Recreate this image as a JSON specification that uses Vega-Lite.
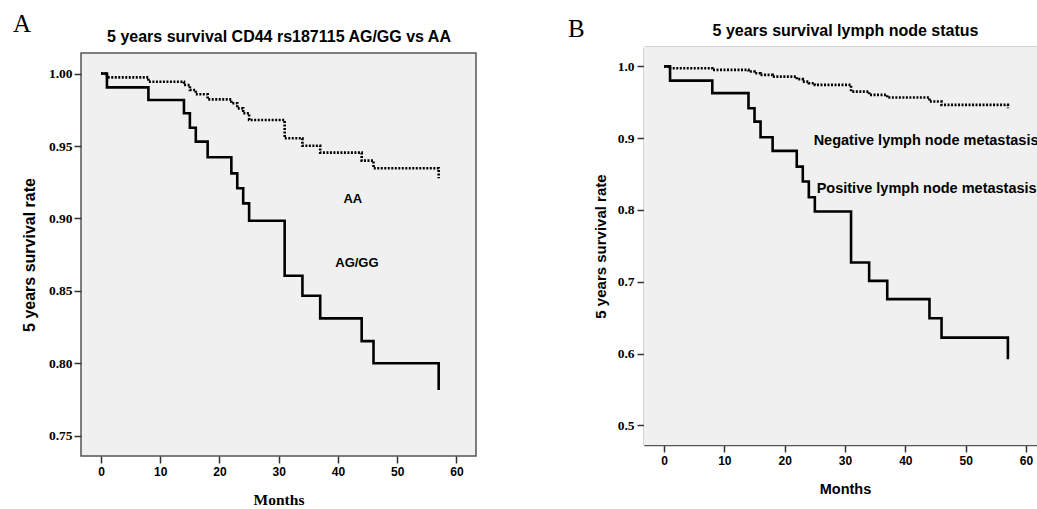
{
  "$schema": "https://vega.github.io/schema/vega-lite/v6.json",
  "background": "white",
  "padding": {"left": 12, "top": 11, "right": 0, "bottom": 0},
  "spacing": 91,
  "config": {"view": {"stroke": null}},
  "datasets": {
    "a_curves": [
      {"group": "AG/GG", "time": 0, "surv": 1.0},
      {"group": "AG/GG", "time": 1, "surv": 0.9905},
      {"group": "AG/GG", "time": 8, "surv": 0.9818},
      {"group": "AG/GG", "time": 14, "surv": 0.9726},
      {"group": "AG/GG", "time": 15, "surv": 0.9626},
      {"group": "AG/GG", "time": 16, "surv": 0.953},
      {"group": "AG/GG", "time": 18, "surv": 0.9422},
      {"group": "AG/GG", "time": 22, "surv": 0.9311},
      {"group": "AG/GG", "time": 23, "surv": 0.9208},
      {"group": "AG/GG", "time": 24, "surv": 0.9104},
      {"group": "AG/GG", "time": 25, "surv": 0.8984},
      {"group": "AG/GG", "time": 31, "surv": 0.8604},
      {"group": "AG/GG", "time": 34, "surv": 0.8466},
      {"group": "AG/GG", "time": 37, "surv": 0.831},
      {"group": "AG/GG", "time": 44, "surv": 0.8153},
      {"group": "AG/GG", "time": 46, "surv": 0.8},
      {"group": "AG/GG", "time": 57, "surv": 0.8},
      {"group": "AG/GG", "time": 57, "surv": 0.7815},
      {"group": "AA", "time": 0, "surv": 1.0},
      {"group": "AA", "time": 1, "surv": 0.9974},
      {"group": "AA", "time": 8, "surv": 0.9944},
      {"group": "AA", "time": 14, "surv": 0.9921},
      {"group": "AA", "time": 15, "surv": 0.9887},
      {"group": "AA", "time": 16, "surv": 0.9857},
      {"group": "AA", "time": 18, "surv": 0.9822},
      {"group": "AA", "time": 22, "surv": 0.9795},
      {"group": "AA", "time": 23, "surv": 0.976},
      {"group": "AA", "time": 24, "surv": 0.9726},
      {"group": "AA", "time": 25, "surv": 0.968},
      {"group": "AA", "time": 31, "surv": 0.9553},
      {"group": "AA", "time": 34, "surv": 0.9502},
      {"group": "AA", "time": 37, "surv": 0.9454},
      {"group": "AA", "time": 44, "surv": 0.9399},
      {"group": "AA", "time": 46, "surv": 0.9346},
      {"group": "AA", "time": 57, "surv": 0.9346},
      {"group": "AA", "time": 57, "surv": 0.9277}
    ],
    "a_labels": [
      {"label": "AA", "time": 42.5, "surv": 0.9134},
      {"label": "AG/GG", "time": 43.2, "surv": 0.869}
    ],
    "b_curves": [
      {"group": "Positive", "time": 0, "surv": 1.0},
      {"group": "Positive", "time": 1, "surv": 0.9802},
      {"group": "Positive", "time": 8, "surv": 0.9627},
      {"group": "Positive", "time": 14, "surv": 0.9418},
      {"group": "Positive", "time": 15, "surv": 0.9231},
      {"group": "Positive", "time": 16, "surv": 0.9014},
      {"group": "Positive", "time": 18, "surv": 0.8823},
      {"group": "Positive", "time": 22, "surv": 0.8604},
      {"group": "Positive", "time": 23, "surv": 0.8396},
      {"group": "Positive", "time": 24, "surv": 0.8178},
      {"group": "Positive", "time": 25, "surv": 0.7978},
      {"group": "Positive", "time": 31, "surv": 0.7268},
      {"group": "Positive", "time": 34, "surv": 0.7013},
      {"group": "Positive", "time": 37, "surv": 0.6758},
      {"group": "Positive", "time": 44, "surv": 0.6493},
      {"group": "Positive", "time": 46, "surv": 0.6223},
      {"group": "Positive", "time": 57, "surv": 0.6223},
      {"group": "Positive", "time": 57, "surv": 0.5922},
      {"group": "Negative", "time": 0, "surv": 1.0},
      {"group": "Negative", "time": 1, "surv": 0.9975},
      {"group": "Negative", "time": 8, "surv": 0.9951},
      {"group": "Negative", "time": 14, "surv": 0.9928},
      {"group": "Negative", "time": 15, "surv": 0.9905},
      {"group": "Negative", "time": 16, "surv": 0.9882},
      {"group": "Negative", "time": 18, "surv": 0.9858},
      {"group": "Negative", "time": 22, "surv": 0.9822},
      {"group": "Negative", "time": 23, "surv": 0.9788},
      {"group": "Negative", "time": 24, "surv": 0.9766},
      {"group": "Negative", "time": 25, "surv": 0.9742},
      {"group": "Negative", "time": 31, "surv": 0.9649},
      {"group": "Negative", "time": 34, "surv": 0.9603},
      {"group": "Negative", "time": 37, "surv": 0.9566},
      {"group": "Negative", "time": 44, "surv": 0.951},
      {"group": "Negative", "time": 46, "surv": 0.9464},
      {"group": "Negative", "time": 57, "surv": 0.9464},
      {"group": "Negative", "time": 57, "surv": 0.9418}
    ],
    "b_labels": [
      {"label": "Negative lymph node metastasis", "time": 24.8, "surv": 0.8962},
      {"label": "Positive lymph node metastasis", "time": 25.3, "surv": 0.8294}
    ]
  },
  "hconcat": [
    {
      "width": 395,
      "height": 403,
      "view": {"fill": "#f0f0f0", "stroke": "#555555", "strokeWidth": 1.5},
      "title": {"text": "A", "anchor": "start", "frame": "bounds", "font": "Liberation Serif", "fontSize": 25, "fontWeight": "normal", "color": "#000000", "offset": -9, "dx": -8},
      "layer": [
        {
          "data": {"name": "a_curves"},
          "mark": {"type": "line", "interpolate": "step-after", "strokeWidth": 2.6, "color": "#000000"},
          "encoding": {
            "x": {"field": "time", "type": "quantitative",
              "scale": {"domain": [-3.38, 63.3], "nice": false, "zero": false},
              "axis": {"orient": "bottom", "values": [0, 10, 20, 30, 40, 50, 60], "grid": false, "domain": false,
                "tickSize": 7, "tickWidth": 1.5, "tickColor": "#333333",
                "labelFont": "Liberation Sans", "labelFontSize": 12, "labelFontWeight": "bold", "labelColor": "#000000", "labelPadding": 3,
                "title": "Months", "titleFont": "Liberation Serif", "titleFontSize": 15.5, "titleFontWeight": "bold", "titleColor": "#000000",
                "titleX": 197.5, "titleY": 43, "titleBaseline": "middle", "titleAlign": "center"}},
            "y": {"field": "surv", "type": "quantitative",
              "scale": {"domain": [0.736, 1.0142], "nice": false, "zero": false},
              "axis": {"orient": "left", "values": [0.75, 0.8, 0.85, 0.9, 0.95, 1.0], "format": ".2f", "grid": false, "domain": false,
                "tickSize": 7, "tickWidth": 1.5, "tickColor": "#333333",
                "labelFont": "Liberation Serif", "labelFontSize": 13.5, "labelFontWeight": "bold", "labelColor": "#000000", "labelPadding": 2,
                "title": "5 years survival rate", "titleFont": "Liberation Sans", "titleFontSize": 16, "titleFontWeight": "bold", "titleColor": "#000000",
                "titleX": -52, "titleY": 201.5, "titleAngle": -90, "titleBaseline": "middle", "titleAlign": "center"}},
            "strokeDash": {"field": "group", "type": "nominal",
              "scale": {"domain": ["AG/GG", "AA"], "range": [[1, 0], [2, 1.5]]}, "legend": null}
          }
        },
        {
          "data": {"name": "a_labels"},
          "mark": {"type": "text", "font": "Liberation Sans", "fontSize": 13, "fontWeight": "bold", "align": "center", "baseline": "middle", "color": "#000000"},
          "encoding": {
            "x": {"field": "time", "type": "quantitative",
              "scale": {"domain": [-3.38, 63.3], "nice": false, "zero": false},
              "axis": {"orient": "top", "labels": false, "ticks": false, "domain": false, "grid": false,
                "title": "5 years survival CD44 rs187115 AG/GG vs AA", "titleFont": "Liberation Sans", "titleFontSize": 16, "titleFontWeight": "bold", "titleColor": "#000000", "titlePadding": 9}},
            "y": {"field": "surv", "type": "quantitative",
              "scale": {"domain": [0.736, 1.0142], "nice": false, "zero": false}, "axis": null},
            "text": {"field": "label"}
          }
        }
      ],
      "resolve": {"axis": {"x": "independent", "y": "independent"}}
    },
    {
      "width": 394,
      "height": 392,
      "title": {"text": "B", "anchor": "start", "frame": "bounds", "font": "Liberation Serif", "fontSize": 25, "fontWeight": "normal", "color": "#000000", "offset": -19, "dx": -25},
      "layer": [
        {
          "data": {"name": "b_labels"},
          "mark": {"type": "rect", "color": "#f0f0f0"},
          "encoding": {
            "x": {"datum": -3.32, "type": "quantitative",
              "scale": {"domain": [-3.32, 61.99], "nice": false, "zero": false}, "axis": null},
            "x2": {"datum": 61.99},
            "y": {"datum": 0.4727, "type": "quantitative",
              "scale": {"domain": [0.4727, 1.027], "range": [392, -6], "nice": false, "zero": false}, "axis": null},
            "y2": {"datum": 1.027}
          }
        },
        {
          "data": {"name": "b_curves"},
          "mark": {"type": "line", "interpolate": "step-after", "strokeWidth": 2.6, "color": "#000000"},
          "encoding": {
            "x": {"field": "time", "type": "quantitative",
              "scale": {"domain": [-3.32, 61.99], "nice": false, "zero": false},
              "axis": {"orient": "bottom", "values": [0, 10, 20, 30, 40, 50, 60], "grid": false, "domain": true, "domainColor": "#555555", "domainWidth": 1.5,
                "tickSize": 7, "tickWidth": 1.5, "tickColor": "#333333",
                "labelFont": "Liberation Sans", "labelFontSize": 12, "labelFontWeight": "bold", "labelColor": "#000000", "labelPadding": 3,
                "title": "Months", "titleFont": "Liberation Sans", "titleFontSize": 14.5, "titleFontWeight": "bold", "titleColor": "#000000",
                "titleX": 201, "titleY": 44, "titleBaseline": "middle", "titleAlign": "center"}},
            "y": {"field": "surv", "type": "quantitative",
              "scale": {"domain": [0.4727, 1.027], "range": [392, -6], "nice": false, "zero": false},
              "axis": {"orient": "left", "values": [0.5, 0.6, 0.7, 0.8, 0.9, 1.0], "format": ".1f", "grid": false, "domain": true, "domainColor": "#555555", "domainWidth": 1.5,
                "tickSize": 7, "tickWidth": 1.5, "tickColor": "#333333",
                "labelFont": "Liberation Serif", "labelFontSize": 13.5, "labelFontWeight": "bold", "labelColor": "#000000", "labelPadding": 3,
                "title": "5 years survival rate", "titleFont": "Liberation Sans", "titleFontSize": 15, "titleFontWeight": "bold", "titleColor": "#000000",
                "titleX": -44, "titleY": 193, "titleAngle": -90, "titleBaseline": "middle", "titleAlign": "center"}},
            "strokeDash": {"field": "group", "type": "nominal",
              "scale": {"domain": ["Positive", "Negative"], "range": [[1, 0], [2, 1.5]]}, "legend": null}
          }
        },
        {
          "data": {"name": "b_labels"},
          "mark": {"type": "text", "font": "Liberation Sans", "fontSize": 14.5, "fontWeight": "bold", "align": "left", "baseline": "middle", "color": "#000000", "clip": true},
          "encoding": {
            "x": {"field": "time", "type": "quantitative",
              "scale": {"domain": [-3.32, 61.99], "nice": false, "zero": false},
              "axis": {"orient": "top", "offset": 6, "labels": false, "ticks": false, "domain": true, "domainColor": "#555555", "domainWidth": 1.5, "grid": false,
                "title": "5 years survival lymph node status", "titleFont": "Liberation Sans", "titleFontSize": 16, "titleFontWeight": "bold", "titleColor": "#000000",
                "titlePadding": 8.5, "titleX": 201}},
            "y": {"field": "surv", "type": "quantitative",
              "scale": {"domain": [0.4727, 1.027], "range": [392, -6], "nice": false, "zero": false}, "axis": null},
            "text": {"field": "label"}
          }
        }
      ],
      "resolve": {"axis": {"x": "independent", "y": "independent"}}
    }
  ]
}
